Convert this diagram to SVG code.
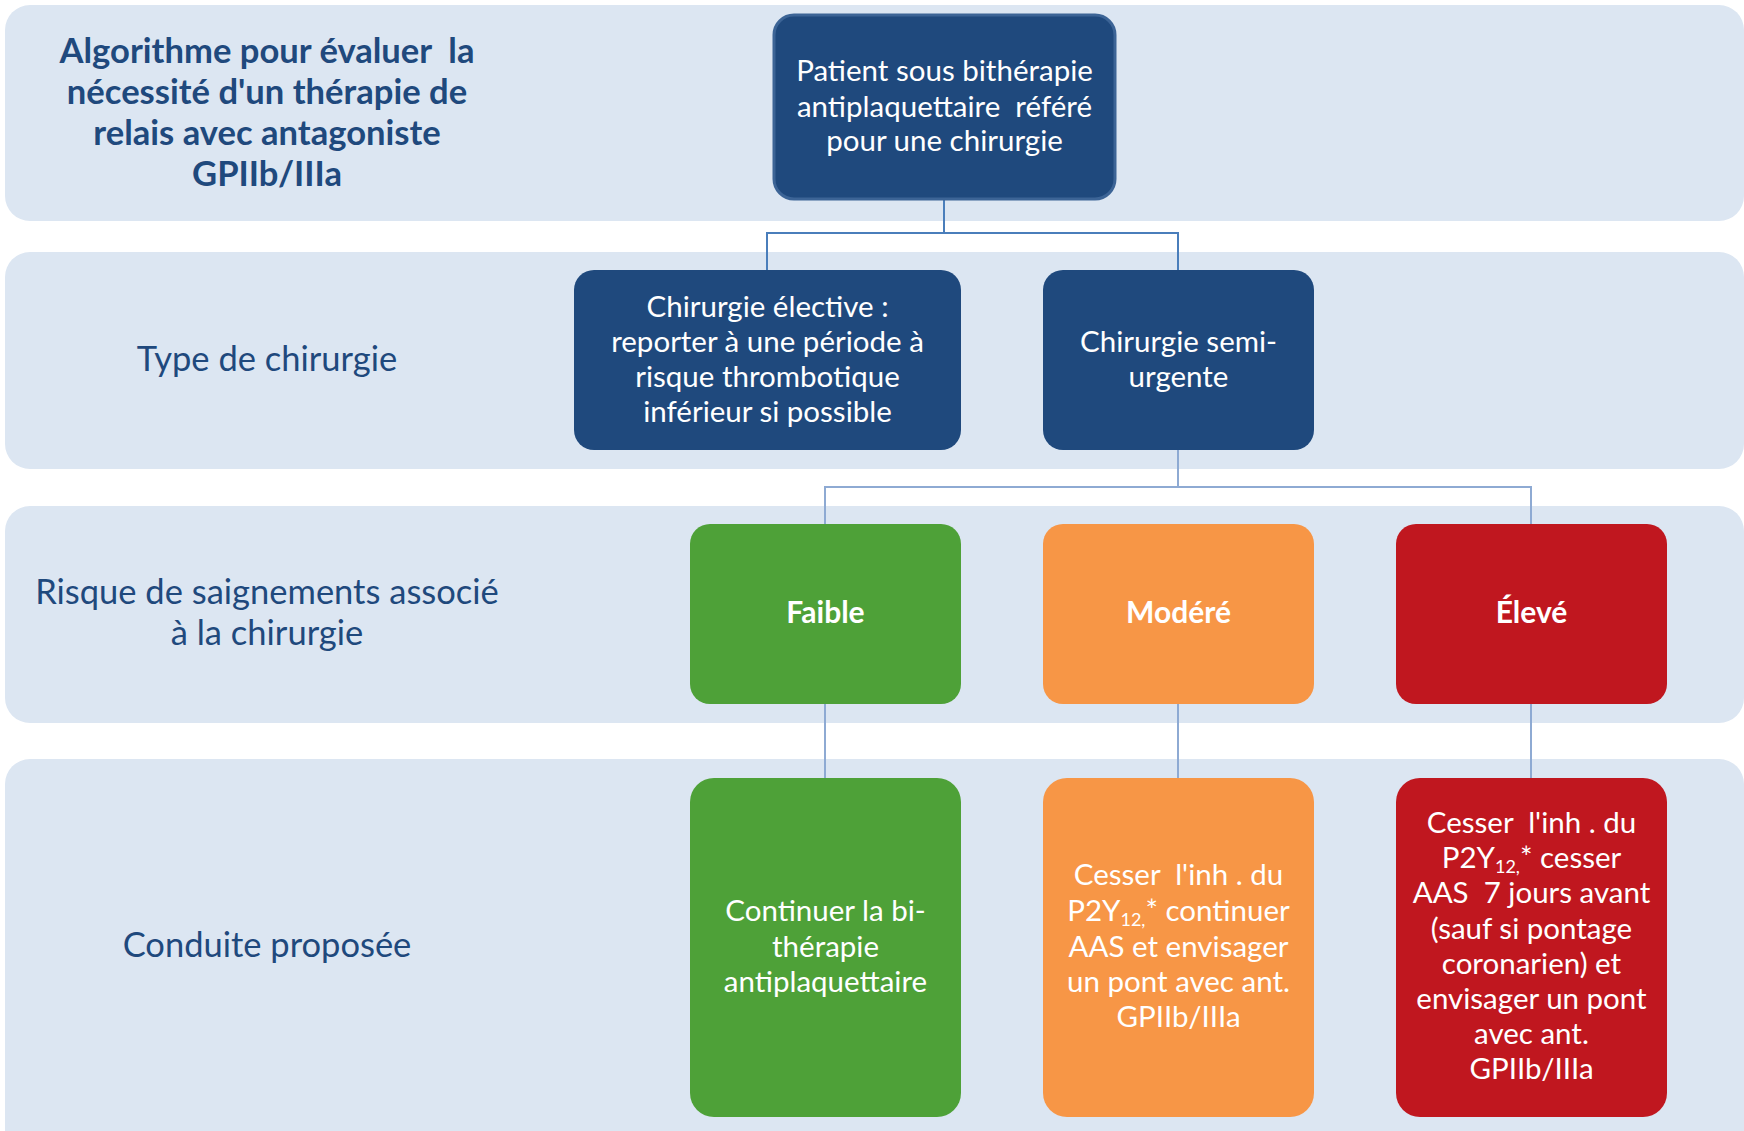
<svg xmlns="http://www.w3.org/2000/svg" width="1744" height="1131" viewBox="0 0 1744 1131">
<style>
.band{fill:#DCE6F2}
.dark{fill:#1F497D}
.green{fill:#4EA138}
.orange{fill:#F79646}
.red{fill:#C0171F}
.t{font-family:Lato,"Liberation Sans",sans-serif;text-anchor:middle;white-space:pre}
.w{fill:#FFFFFF;font-size:29.5px}
.wb{fill:#FFFFFF;font-size:30px;font-weight:bold}
.lab{fill:#1F497D;font-size:34.5px}
.title{fill:#1F497D;font-size:34.6px;font-weight:bold}
.c1{fill:none;stroke:#4A7EBB;stroke-width:2}
.c2{fill:none;stroke:#8EAAD3;stroke-width:2}
.sub{font-size:18px}
</style>
<g id="bands">
<rect class="band" x="5" y="5" width="1739" height="216" rx="25"/>
<rect class="band" x="5" y="252" width="1739" height="217" rx="25"/>
<rect class="band" x="5" y="506" width="1739" height="217" rx="25"/>
<rect class="band" x="5" y="759" width="1739" height="400" rx="25"/>
</g>
<g id="labels">
<text class="t title" x="267" y="63" xml:space="preserve">Algorithme pour évaluer  la</text>
<text class="t title" x="267" y="104">nécessité d'un thérapie de</text>
<text class="t title" x="267" y="145">relais avec antagoniste</text>
<text class="t title" x="267" y="186">GPIIb/IIIa</text>
<text class="t lab" x="267" y="371">Type de chirurgie</text>
<text class="t lab" x="267" y="604">Risque de saignements associé</text>
<text class="t lab" x="267" y="645">à la chirurgie</text>
<text class="t lab" x="267" y="957">Conduite proposée</text>
</g>
<g id="connectors">
<path class="c1" d="M944 199 V233 M767 270 V233 H1178 V270"/>
<path class="c2" d="M1178 450 V487 M825 524 V487 H1531 V524"/>
<path class="c2" d="M825 704 V778 M1178 704 V778 M1531 704 V778"/>
</g>
<g id="n-patient">
<rect class="dark" x="774" y="15" width="341" height="184" rx="20" stroke="#3C6496" stroke-width="3"/>
<text class="t w" x="944.5" y="81">Patient sous bithérapie</text>
<text class="t w" x="944.5" y="117" xml:space="preserve">antiplaquettaire  référé</text>
<text class="t w" x="944.5" y="151">pour une chirurgie</text>
</g>
<g id="n-elective">
<rect class="dark" x="574" y="270" width="387" height="180" rx="20"/>
<text class="t w" x="767.5" y="317">Chirurgie élective :</text>
<text class="t w" x="767.5" y="352">reporter à une période à</text>
<text class="t w" x="767.5" y="387">risque thrombotique</text>
<text class="t w" x="767.5" y="422">inférieur si possible</text>
</g>
<g id="n-semi">
<rect class="dark" x="1043" y="270" width="271" height="180" rx="20"/>
<text class="t w" x="1178.5" y="352">Chirurgie semi-</text>
<text class="t w" x="1178.5" y="387">urgente</text>
</g>
<g id="n-faible">
<rect class="green" x="690" y="524" width="271" height="180" rx="20"/>
<text class="t wb" x="825.5" y="623">Faible</text>
</g>
<g id="n-modere">
<rect class="orange" x="1043" y="524" width="271" height="180" rx="20"/>
<text class="t wb" x="1178.5" y="623">Modéré</text>
</g>
<g id="n-eleve">
<rect class="red" x="1396" y="524" width="271" height="180" rx="20"/>
<text class="t wb" x="1531.5" y="623">Élevé</text>
</g>
<g id="n-continuer">
<rect class="green" x="690" y="778" width="271" height="339" rx="24"/>
<text class="t w" x="825.5" y="921">Continuer la bi-</text>
<text class="t w" x="825.5" y="957">thérapie</text>
<text class="t w" x="825.5" y="992">antiplaquettaire</text>
</g>
<g id="n-cesser-mod">
<rect class="orange" x="1043" y="778" width="271" height="339" rx="24"/>
<text class="t w" x="1178.5" y="885" xml:space="preserve">Cesser  l'inh . du</text>
<text class="t w" x="1178.5" y="921">P2Y<tspan class="sub" dy="5">12,</tspan><tspan dy="-5">* continuer</tspan></text>
<text class="t w" x="1178.5" y="957">AAS et envisager</text>
<text class="t w" x="1178.5" y="992">un pont avec ant.</text>
<text class="t w" x="1178.5" y="1027">GPIIb/IIIa</text>
</g>
<g id="n-cesser-elev">
<rect class="red" x="1396" y="778" width="271" height="339" rx="24"/>
<text class="t w" x="1531.5" y="833" xml:space="preserve">Cesser  l'inh . du</text>
<text class="t w" x="1531.5" y="868">P2Y<tspan class="sub" dy="5">12,</tspan><tspan dy="-5">* cesser</tspan></text>
<text class="t w" x="1531.5" y="903" xml:space="preserve">AAS  7 jours avant</text>
<text class="t w" x="1531.5" y="939">(sauf si pontage</text>
<text class="t w" x="1531.5" y="974">coronarien) et</text>
<text class="t w" x="1531.5" y="1009">envisager un pont</text>
<text class="t w" x="1531.5" y="1044">avec ant.</text>
<text class="t w" x="1531.5" y="1079">GPIIb/IIIa</text>
</g>
</svg>
